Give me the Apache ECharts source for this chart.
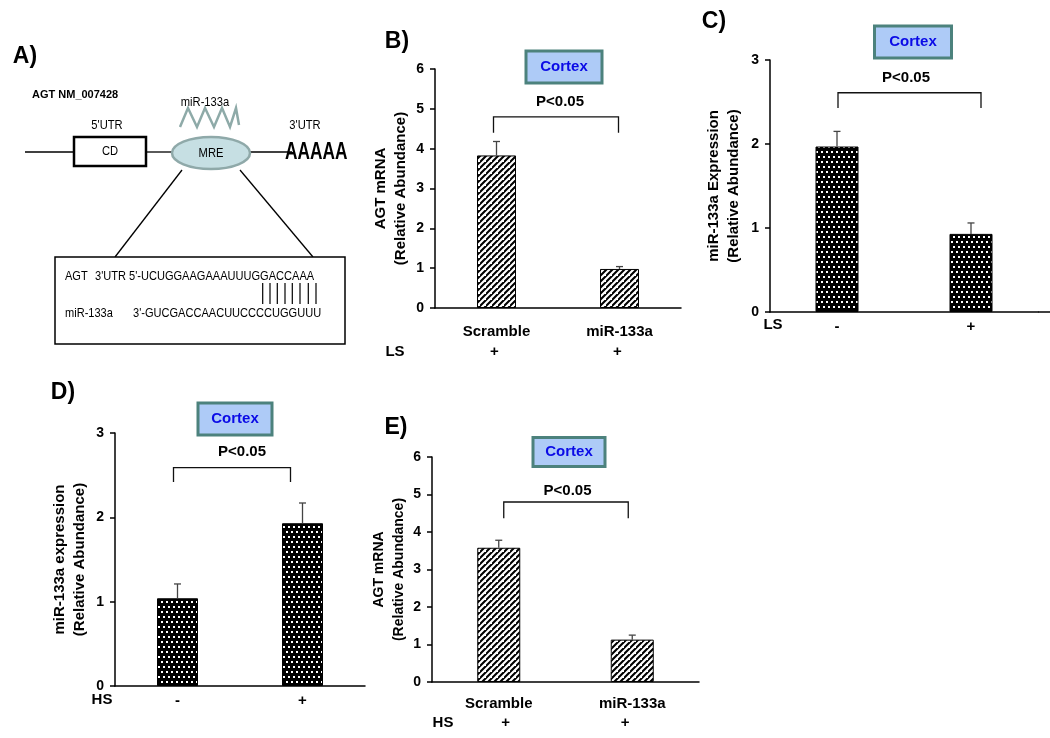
<!DOCTYPE html>
<html>
<head>
<meta charset="utf-8">
<script src="https://cdn.jsdelivr.net/npm/echarts@6/dist/echarts.min.js"></script>
<style>
  html, body { margin: 0; padding: 0; background: #fff; }
  #chart { width: 1050px; height: 738px; }
</style>
</head>
<body>
<div id="chart"></div>
<script>
// ---------- DATA ----------
const panelBCategories = ['Scramble', 'miR-133a'];
const panelBValues = [3.83, 0.98];
const panelBErrors = [0.35, 0.06];
const panelBTreatment = ['+', '+'];

const panelCCategories = ['-', '+'];
const panelCValues = [1.97, 0.93];
const panelCErrors = [0.18, 0.13];

const panelDCategories = ['-', '+'];
const panelDValues = [1.04, 1.93];
const panelDErrors = [0.17, 0.24];

const panelECategories = ['Scramble', 'miR-133a'];
const panelEValues = [3.58, 1.13];
const panelEErrors = [0.20, 0.12];
const panelETreatment = ['+', '+'];

const yTitleAGT = 'AGT mRNA\n(Relative Abundance)';
const yTitleMirC = 'miR-133a Expression\n(Relative Abundance)';
const yTitleMirD = 'miR-133a expression\n(Relative Abundance)';
const pLabel = 'P<0.05';
const tissueLabel = 'Cortex';

const FONT = '"Liberation Sans", Arial, sans-serif';

// ---------- PATTERNS ----------
function hatchPattern() {
  const s = 6;
  const c = document.createElement('canvas');
  c.width = s; c.height = s;
  const g = c.getContext('2d');
  g.fillStyle = '#fff'; g.fillRect(0, 0, s, s);
  g.strokeStyle = '#000'; g.lineWidth = 2.1;
  g.beginPath();
  g.moveTo(-1, s + 1); g.lineTo(s + 1, -1);
  g.moveTo(-s - 1, s + 1); g.lineTo(1, -1);
  g.moveTo(s - 1, 2 * s + 1); g.lineTo(2 * s + 1, s - 1);
  g.stroke();
  return c;
}
function dotPattern() {
  const c = document.createElement('canvas');
  c.width = 10; c.height = 10;
  const g = c.getContext('2d');
  g.fillStyle = '#000'; g.fillRect(0, 0, 10, 10);
  g.fillStyle = '#fff';
  g.fillRect(1, 1, 2, 2); g.fillRect(6, 1, 2, 2);
  g.fillRect(3, 6, 2, 2); g.fillRect(8, 6, 2, 2);
  return c;
}
const hatch = { image: hatchPattern(), repeat: 'repeat' };
const dots = { image: dotPattern(), repeat: 'repeat' };

// ---------- CHART ----------
const chart = echarts.init(document.getElementById('chart'), null, { renderer: 'canvas' });

const grids = [
  { left: 435, top: 69, width: 246, height: 239 },   // B
  { left: 770, top: 60, width: 268, height: 252 },   // C
  { left: 115, top: 433, width: 250, height: 253 },  // D
  { left: 432, top: 457, width: 267, height: 225 }   // E
];

function xAxis(idx, cats, margin, size) {
  return {
    type: 'category', gridIndex: idx, data: cats,
    axisLine: { lineStyle: { color: '#000', width: 1.5 } },
    axisTick: { show: false },
    axisLabel: { color: '#000', fontWeight: 'bold', fontSize: size, fontFamily: FONT, margin: margin }
  };
}
function yAxis(idx, max, title, gap, size) {
  return {
    type: 'value', gridIndex: idx, min: 0, max: max, interval: 1,
    splitLine: { show: false },
    axisLine: { show: true, lineStyle: { color: '#000', width: 1.5 } },
    axisTick: { show: true, length: 5, lineStyle: { color: '#000', width: 1.5 } },
    axisLabel: { color: '#000', fontWeight: 'bold', fontSize: 14, fontFamily: FONT, margin: 11 },
    name: title, nameLocation: 'middle', nameRotate: 90, nameGap: gap,
    nameTextStyle: { color: '#000', fontWeight: 'bold', fontSize: size, fontFamily: FONT, lineHeight: 20 }
  };
}
function barSeries(idx, values, pattern, width) {
  return {
    type: 'bar', xAxisIndex: idx, yAxisIndex: idx, data: values, barWidth: width,
    itemStyle: { color: pattern, borderColor: '#000', borderWidth: 1 },
    silent: true, animation: false
  };
}
function errSeries(idx, values, errors) {
  return {
    type: 'custom', xAxisIndex: idx, yAxisIndex: idx, z: 5, silent: true, animation: false,
    data: values.map((v, i) => [i, v, errors[i]]),
    renderItem: function (params, api) {
      const i = api.value(0), v = api.value(1), e = api.value(2);
      const base = api.coord([i, v]);
      const top = api.coord([i, v + e]);
      const st = { stroke: '#444', lineWidth: 1.3 };
      return {
        type: 'group', children: [
          { type: 'line', shape: { x1: base[0], y1: base[1], x2: top[0], y2: top[1] }, style: st },
          { type: 'line', shape: { x1: top[0] - 3.5, y1: top[1], x2: top[0] + 3.5, y2: top[1] }, style: st }
        ]
      };
    }
  };
}

chart.setOption({
  backgroundColor: '#fff',
  animation: false,
  grid: grids,
  xAxis: [
    xAxis(0, panelBCategories, 16, 15),
    xAxis(1, panelCCategories, 7, 15),
    xAxis(2, panelDCategories, 7, 15),
    xAxis(3, panelECategories, 14, 15)
  ],
  yAxis: [
    yAxis(0, 6, yTitleAGT, 24, 15),
    yAxis(1, 3, yTitleMirC, 26, 15),
    yAxis(2, 3, yTitleMirD, 25, 15),
    yAxis(3, 6, yTitleAGT, 20, 14)
  ],
  series: [
    barSeries(0, panelBValues, hatch, 39),
    barSeries(1, panelCValues, dots, 43),
    barSeries(2, panelDValues, dots, 41),
    barSeries(3, panelEValues, hatch, 43),
    errSeries(0, panelBValues, panelBErrors),
    errSeries(1, panelCValues, panelCErrors),
    errSeries(2, panelDValues, panelDErrors),
    errSeries(3, panelEValues, panelEErrors)
  ]
});

// ---------- ANNOTATIONS (positioned through the axes) ----------
function px(g, cat, val) {
  return chart.convertToPixel({ xAxisIndex: g, yAxisIndex: g }, [cat, val]);
}
const g = [];
function text(x, y, str, size, opts) {
  opts = opts || {};
  g.push({
    type: 'text', x: x, y: y, scaleX: opts.scaleX || 1, silent: true, z: 10,
    style: {
      text: str, fill: opts.color || '#000', font: (opts.weight || 'bold') + ' ' + size + 'px ' + FONT,
      textAlign: opts.align || 'center', textVerticalAlign: 'middle'
    }
  });
}
function line(x1, y1, x2, y2, color, w) {
  g.push({ type: 'line', silent: true, z: 10, shape: { x1, y1, x2, y2 },
    style: { stroke: color || '#000', lineWidth: w || 1.2 } });
}
function bracket(gi, top, end, dx1, dx2) {
  const a = px(gi, 0, top), b = px(gi, 1, top), e = px(gi, 0, end);
  const x1 = a[0] + dx1, x2 = b[0] + dx2;
  g.push({ type: 'polyline', silent: true, z: 10,
    shape: { points: [[x1, e[1]], [x1, a[1]], [x2, a[1]], [x2, e[1]]] },
    style: { stroke: '#111', lineWidth: 1.3, fill: null } });
}
function pText(gi, val) {
  const a = px(gi, 0, val), b = px(gi, 1, val);
  text((a[0] + b[0]) / 2 + 2, a[1], pLabel, 15);
}
function cortex(cx, cy, w, h) {
  g.push({ type: 'rect', silent: true, z: 10,
    shape: { x: cx - w / 2, y: cy - h / 2, width: w, height: h },
    style: { fill: '#aecbf7', stroke: '#4c827d', lineWidth: 3 } });
  text(cx, cy, tissueLabel, 15, { color: '#0a0ae6' });
}

// panel letters
text(25, 57, 'A)', 23);
text(397, 42, 'B)', 23);
text(714, 22, 'C)', 23);
text(63, 393, 'D)', 23);
text(396, 428, 'E)', 23);

// B
cortex(564, 67, 76, 32);
bracket(0, 4.8, 4.4, -3, -1);
pText(0, 5.17);
text(395, 352, 'LS', 15);
panelBTreatment.forEach((t, i) => { const p = px(0, i, 0); text(p[0] - 2, 352, t, 15); });

// C
cortex(913, 42, 77, 32);
bracket(1, 2.61, 2.43, 1, 10);
pText(1, 2.79);
text(773, 325, 'LS', 15);
line(1038, 312, 1050, 312, '#000', 1.5);

// D
cortex(235, 419, 74, 32);
bracket(2, 2.59, 2.42, -4, -12);
pText(2, 2.78);
text(102, 700, 'HS', 15);

// E
cortex(569, 452, 72, 29);
bracket(3, 4.8, 4.37, 5, -4);
pText(3, 5.11);
text(443, 723, 'HS', 15);
panelETreatment.forEach((t, i) => { const p = px(3, i, 0); text(p[0] + (i === 0 ? 7 : -7), 723, t, 15); });

// ---------- PANEL A diagram ----------
const A_FONT_SCALE = 0.86;
text(32, 95, 'AGT NM_007428', 11, { align: 'left' });
text(205, 102, 'miR-133a', 13, { weight: 'normal', scaleX: A_FONT_SCALE });
// zigzag (miRNA)
g.push({ type: 'polyline', silent: true, z: 10,
  shape: { points: [[180, 127], [188, 108], [197, 127], [205, 108], [214, 127], [222, 108], [230, 127], [236, 108], [239, 125]] },
  style: { stroke: '#8eaaa8', lineWidth: 2.5, fill: null } });
text(107, 125, "5'UTR", 13, { weight: 'normal', scaleX: A_FONT_SCALE });
text(305, 125, "3'UTR", 13, { weight: 'normal', scaleX: A_FONT_SCALE });
line(25, 152, 73, 152, '#000', 1.3);
g.push({ type: 'rect', silent: true, z: 10, shape: { x: 74, y: 137, width: 72, height: 29 },
  style: { fill: '#fff', stroke: '#000', lineWidth: 2.5 } });
text(110, 151, 'CD', 13, { weight: 'normal', scaleX: A_FONT_SCALE });
line(147, 152, 173, 152, '#000', 1.3);
line(249, 152, 292, 152, '#000', 1.3);
g.push({ type: 'ellipse', silent: true, z: 10, shape: { cx: 211, cy: 153, rx: 39, ry: 16 },
  style: { fill: '#c6dfe3', stroke: '#8fa9a9', lineWidth: 2.5 } });
text(211, 153, 'MRE', 13, { weight: 'normal', scaleX: A_FONT_SCALE });
g.push({ type: 'text', x: 285, y: 152, scaleX: 0.72, silent: true, z: 11,
  style: { text: 'AAAAA', fill: '#000', font: 'bold 24px ' + FONT, textAlign: 'left', textVerticalAlign: 'middle' } });
line(182, 170, 115, 257, '#000', 1.3);
line(240, 170, 313, 257, '#000', 1.3);
g.push({ type: 'rect', silent: true, z: 10, shape: { x: 55, y: 257, width: 290, height: 87 },
  style: { fill: '#fff', stroke: '#000', lineWidth: 1.5 } });
text(65, 276, 'AGT', 13, { weight: 'normal', align: 'left', scaleX: 0.85 });
text(95, 276, "3'UTR 5'-UCUGGAAGAAAUUUGGACCAAA", 13, { weight: 'normal', align: 'left', scaleX: 0.85 });
text(65, 313, 'miR-133a', 13, { weight: 'normal', align: 'left', scaleX: 0.85 });
text(133, 313, "3'-GUCGACCAACUUCCCCUGGUUU", 13, { weight: 'normal', align: 'left', scaleX: 0.85 });
[262.7, 270, 277.3, 285, 292.3, 300, 308.3, 316].forEach(x => line(x, 283, x, 304, '#000', 1.2));

chart.setOption({ graphic: g });
</script>
</body>
</html>
